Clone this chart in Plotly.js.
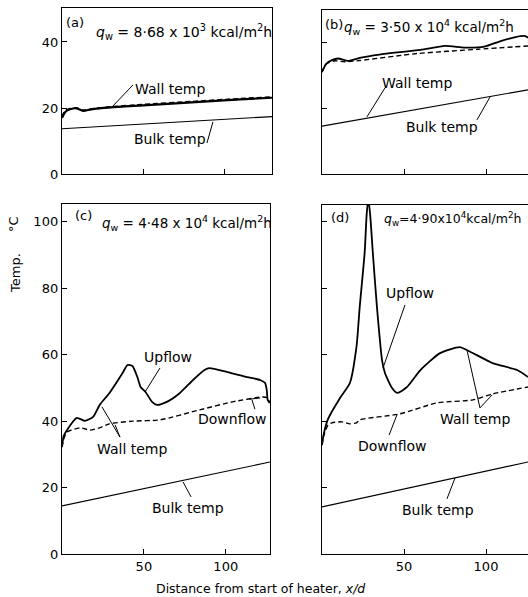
<!DOCTYPE html>
<html>
<head>
<meta charset="utf-8">
<script src="https://cdn.plot.ly/plotly-3.0.1.min.js"></script>
<style>html,body{margin:0;padding:0;background:#fff;}</style>
</head>
<body>
<div id="chart" style="width:528px;height:597px;"></div>
<script>
// ---------- Data ----------
// Panel (a)  q_w = 8.68e3
const aWallX   = [0, 2, 5, 9, 13, 18, 30, 50, 80, 110, 129.5];
const aUpflow  = [17.0, 18.8, 19.6, 19.9, 19.1, 19.6, 20.2, 20.8, 21.7, 22.6, 23.1];
const aDownflow= [17.3, 19.1, 19.8, 20.0, 19.3, 19.7, 20.3, 21.0, 21.9, 22.8, 23.3];
const aBulkX   = [0, 129.5];
const aBulk    = [13.7, 17.4];

// Panel (b)  q_w = 3.50e4
const bUpX     = [0, 1, 2.4, 6, 9.8, 16, 23, 35, 60, 75, 87, 99, 108.5, 118, 124, 125.6];
const bUpflow  = [30.9, 32.0, 33.3, 34.5, 35.0, 34.3, 35.2, 36.2, 37.6, 38.8, 38.3, 38.6, 40.2, 41.5, 41.8, 41.3];
const bDownX   = [0, 1, 3, 8, 14, 23, 58, 95, 125.6];
const bDownflow= [30.9, 32.0, 33.5, 34.3, 34.0, 34.4, 36.5, 37.8, 38.8];
const bBulkX   = [0, 125.6];
const bBulk    = [14.5, 25.5];

// Panel (c)  q_w = 4.48e4
const cUpX     = [0, 1, 3, 9, 14, 19, 23, 29, 37, 40, 43, 46, 48, 51, 55, 58, 64, 72, 80, 87, 90, 101, 113, 121, 124, 125, 125.6, 126.8];
const cUpflow  = [32.2, 35.5, 37.3, 41.0, 40.1, 41.3, 44.9, 48.5, 54.5, 56.9, 56.6, 53.3, 50.3, 48.8, 45.8, 44.9, 45.8, 48.5, 52.4, 55.4, 56.0, 54.8, 53.3, 52.4, 51.5, 49.4, 46.4, 45.5];
const cDownX   = [0, 1, 3, 11, 17, 23, 29, 43, 60, 84, 104, 123, 125.5, 126.8];
const cDownflow= [32.2, 34.5, 36.7, 38.0, 37.3, 38.0, 39.2, 40.0, 40.4, 43.4, 45.8, 47.3, 47.0, 45.5];
const cBulkX   = [0, 127];
const cBulk    = [14.5, 27.7];

// Panel (d)  q_w = 4.90e4
const dUpX     = [0, 1, 3.7, 11, 17, 21, 23, 26, 27.2, 28.2, 29.4, 31, 33.5, 36.6, 38.4, 42.7, 46, 51.8, 60, 72, 84, 90, 104, 119, 125.6];
const dUpflow  = [32.8, 36.0, 40.7, 47.0, 51.5, 62.3, 74.4, 90.7, 102, 107, 102, 90.7, 74.4, 58.4, 54.5, 50.0, 48.5, 50.3, 55.4, 60.5, 62.3, 61.0, 57.5, 55.4, 53.3];
const dDownX   = [0, 1, 3.7, 6, 12, 17, 21, 23, 47.5, 70, 92, 104, 125.6];
const dDownflow= [32.8, 35.5, 38.9, 39.5, 39.8, 39.2, 39.5, 40.4, 42.2, 45.5, 46.4, 48.2, 50.3];
const dBulkX   = [0, 125.6];
const dBulk    = [14.2, 27.7];

// Tick labels
const xTicks = [50, 100];
const yTicksTop = [0, 20, 40];
const yTicksBottom = [0, 20, 40, 60, 80, 100];

// ---------- Traces ----------
const FONT = "DejaVu Sans, sans-serif";
function solid(x, y, xa, ya, w) {
  return {x: x, y: y, xaxis: xa, yaxis: ya, type: 'scatter', mode: 'lines',
          line: {color: '#000', width: w, shape: 'spline', smoothing: 0.6}, hoverinfo: 'skip'};
}
function dashed(x, y, xa, ya, w) {
  return {x: x, y: y, xaxis: xa, yaxis: ya, type: 'scatter', mode: 'lines',
          line: {color: '#000', width: w, dash: '5px,3px', shape: 'spline', smoothing: 0.6}, hoverinfo: 'skip'};
}
function straight(x, y, xa, ya) {
  return {x: x, y: y, xaxis: xa, yaxis: ya, type: 'scatter', mode: 'lines',
          line: {color: '#000', width: 1.1}, hoverinfo: 'skip'};
}

const traces = [
  solid(aWallX, aUpflow, 'x', 'y', 2.2),
  dashed(aWallX, aDownflow, 'x', 'y', 2.0),
  straight(aBulkX, aBulk, 'x', 'y'),

  solid(bUpX, bUpflow, 'x2', 'y2', 1.8),
  dashed(bDownX, bDownflow, 'x2', 'y2', 1.4),
  straight(bBulkX, bBulk, 'x2', 'y2'),

  solid(cUpX, cUpflow, 'x3', 'y3', 1.8),
  dashed(cDownX, cDownflow, 'x3', 'y3', 1.4),
  straight(cBulkX, cBulk, 'x3', 'y3'),

  solid(dUpX, dUpflow, 'x4', 'y4', 1.8),
  dashed(dDownX, dDownflow, 'x4', 'y4', 1.4),
  straight(dBulkX, dBulk, 'x4', 'y4')
];

// ---------- Axes ----------
function xAx(domain, range, anchor, showLabels, mirror) {
  return {domain: domain, range: range, anchor: anchor, showgrid: false, zeroline: false,
          showline: true, linecolor: '#000', linewidth: 1.2, mirror: mirror,
          ticks: 'inside', ticklen: 5, tickcolor: '#000', tickvals: xTicks,
          ticktext: xTicks.map(String), showticklabels: showLabels,
          tickfont: {family: FONT, size: 13, color: '#000'}, fixedrange: true};
}
function yAx(domain, range, anchor, vals, showLabels, mirror) {
  return {domain: domain, range: range, anchor: anchor, showgrid: false, zeroline: false,
          showline: true, linecolor: '#000', linewidth: 1.2, mirror: mirror,
          ticks: 'inside', ticklen: 5, tickcolor: '#000', tickvals: vals,
          ticktext: vals.map(String), showticklabels: showLabels,
          tickfont: {family: FONT, size: 13, color: '#000'}, fixedrange: true};
}

// ---------- Annotations / leader lines ----------
function txt(xr, yr, x, y, text, size, anchor) {
  return {xref: xr, yref: yr, x: x, y: y, text: text, showarrow: false,
          xanchor: anchor || 'center', yanchor: 'middle',
          font: {family: FONT, size: size || 14, color: '#000'}};
}
function lead(xr, yr, x0, y0, x1, y1) {
  return {type: 'line', xref: xr, yref: yr, x0: x0, y0: y0, x1: x1, y1: y1,
          line: {color: '#000', width: 1}};
}

const annotations = [
  txt('x', 'y', 1.2, 46, '(a)', 13, 'left'),
  txt('x', 'y', 20, 43, '<i>q</i><sub>w</sub> = 8·68 x 10<sup>3</sup> kcal/m<sup>2</sup>h', 14, 'left'),
  txt('x', 'y', 66.6, 25.8, 'Wall temp'),
  txt('x', 'y', 66.6, 10.6, 'Bulk temp'),

  txt('x2', 'y2', 0.4, 45.3, '(b)', 13, 'left'),
  txt('x2', 'y2', 12.2, 44.6, '<i>q</i><sub>w</sub> = 3·50 x 10<sup>4</sup> kcal/m<sup>2</sup>h', 13.5, 'left'),
  txt('x2', 'y2', 57.9, 27.6, 'Wall temp'),
  txt('x2', 'y2', 73.2, 14.2, 'Bulk temp'),

  txt('x3', 'y3', 7, 101.8, '(c)', 13, 'left'),
  txt('x3', 'y3', 23, 99.6, '<i>q</i><sub>w</sub> = 4·48 x 10<sup>4</sup> kcal/m<sup>2</sup>h', 13.5, 'left'),
  txt('x3', 'y3', 64.7, 59.3, 'Upflow'),
  txt('x3', 'y3', 103.8, 40.7, 'Downflow'),
  txt('x3', 'y3', 42.7, 31.6, 'Wall temp'),
  txt('x3', 'y3', 76.9, 13.9, 'Bulk temp'),

  txt('x4', 'y4', 4, 101.2, '(d)', 13, 'left'),
  txt('x4', 'y4', 36.6, 100.8, '<i>q</i><sub>w</sub>=4·90x10<sup>4</sup>kcal/m<sup>2</sup>h', 12.5, 'left'),
  txt('x4', 'y4', 53.7, 78.6, 'Upflow'),
  txt('x4', 'y4', 93.3, 40.7, 'Wall temp'),
  txt('x4', 'y4', 42.7, 32.5, 'Downflow'),
  txt('x4', 'y4', 70.7, 13.3, 'Bulk temp'),

  {xref: 'paper', yref: 'paper', x: 15 / 528, y: 1 - 273 / 597, text: 'Temp.', textangle: -90,
   showarrow: false, xanchor: 'center', yanchor: 'middle', font: {family: FONT, size: 13, color: '#000'}},
  {xref: 'paper', yref: 'paper', x: 14 / 528, y: 1 - 224 / 597, text: '°C', textangle: -90,
   showarrow: false, xanchor: 'center', yanchor: 'middle', font: {family: FONT, size: 13, color: '#000'}},
  {xref: 'paper', yref: 'paper', x: 260 / 528, y: 1 - 588 / 597, text: 'Distance from start of heater, <i>x/d</i>',
   showarrow: false, xanchor: 'center', yanchor: 'middle', font: {family: FONT, size: 12.5, color: '#000'}}
];

const shapes = [
  lead('x', 'y', 43.8, 27, 30.8, 20.3),
  lead('x', 'y', 89.4, 9.4, 93.1, 15.8),

  lead('x2', 'y2', 38.4, 26.1, 27.4, 17.3),
  lead('x2', 'y2', 94.5, 16.4, 102.4, 23.3),

  lead('x3', 'y3', 59.8, 56, 50.7, 48.8),
  lead('x3', 'y3', 117.8, 43.6, 116, 46.4),
  lead('x3', 'y3', 114.5, 46.6, 121, 47.0),
  lead('x3', 'y3', 24.4, 44.3, 35.4, 35.2),
  lead('x3', 'y3', 32.4, 38.9, 35.4, 35.2),
  lead('x3', 'y3', 78.8, 17.2, 73.9, 21.7),

  lead('x4', 'y4', 50.6, 75, 37.2, 56),
  lead('x4', 'y4', 88.4, 61.4, 96.3, 44),
  lead('x4', 'y4', 96.3, 44, 103.7, 47.9),
  lead('x4', 'y4', 40.9, 35.8, 45.7, 41.9),
  lead('x4', 'y4', 76.2, 16.6, 81.1, 22.9)
];

const layout = {
  width: 528, height: 597, autosize: false,
  margin: {l: 0, r: 0, t: 0, b: 0, pad: 0},
  paper_bgcolor: '#fff', plot_bgcolor: '#fff',
  showlegend: false,
  font: {family: FONT, color: '#000'},
  xaxis:  xAx([62 / 528, 272 / 528], [0, 129.5], 'y', false, true),
  yaxis:  yAx([1 - 174 / 597, 1 - 8 / 597], [0, 50.3], 'x', yTicksTop, true, true),
  xaxis2: xAx([322 / 528, 1], [0, 125.6], 'y2', false, true),
  yaxis2: yAx([1 - 174 / 597, 1 - 10 / 597], [0, 49.7], 'x2', yTicksTop, false, false),
  xaxis3: xAx([62 / 528, 270 / 528], [0, 127], 'y3', true, true),
  yaxis3: yAx([1 - 554 / 597, 1 - 204 / 597], [0, 105.4], 'x3', yTicksBottom, true, true),
  xaxis4: xAx([322 / 528, 1], [0, 125.6], 'y4', true, true),
  yaxis4: yAx([1 - 554 / 597, 1 - 205 / 597], [0, 105.1], 'x4', yTicksBottom, false, false),
  annotations: annotations,
  shapes: shapes
};

Plotly.newPlot('chart', traces, layout, {displayModeBar: false, staticPlot: true});
</script>
</body>
</html>
